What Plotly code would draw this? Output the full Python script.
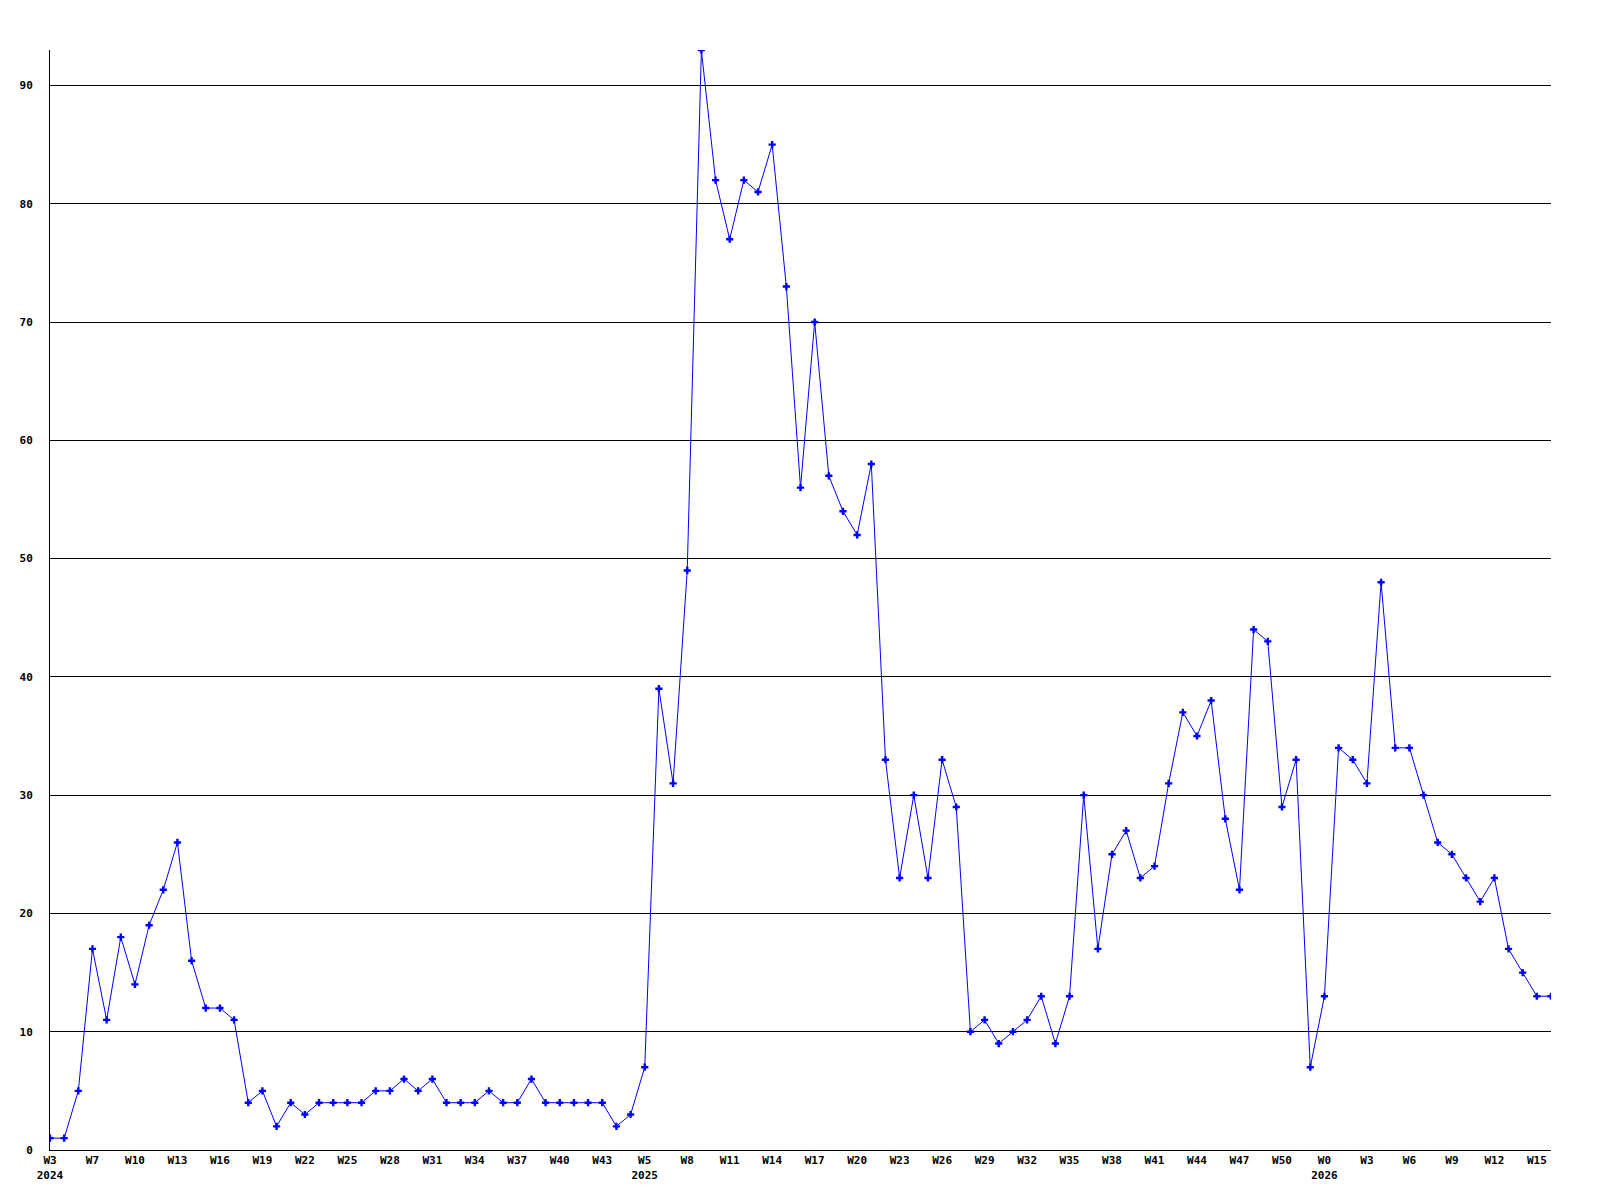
import plotly.graph_objects as go

# Weekly values (one point per week)
values = [
    1, 1, 5, 17, 11, 18, 14, 19, 22, 26,
    16, 12, 12, 11, 4, 5, 2, 4, 3, 4,
    4, 4, 4, 5, 5, 6, 5, 6, 4, 4,
    4, 5, 4, 4, 6, 4, 4, 4, 4, 4,
    2, 3, 7, 39, 31, 49, 93, 82, 77, 82,
    81, 85, 73, 56, 70, 57, 54, 52, 58, 33,
    23, 30, 23, 33, 29, 10, 11, 9, 10, 11,
    13, 9, 13, 30, 17, 25, 27, 23, 24, 31,
    37, 35, 38, 28, 22, 44, 43, 29, 33, 7,
    13, 34, 33, 31, 48, 34, 34, 30, 26, 25,
    23, 21, 23, 17, 15, 13, 13,
]

# Tick labels shown every third point
tick_labels = [
    "W3<br>2024", "W7", "W10", "W13", "W16", "W19", "W22", "W25", "W28",
    "W31", "W34", "W37", "W40", "W43", "W5<br>2025", "W8", "W11", "W14",
    "W17", "W20", "W23", "W26", "W29", "W32", "W35", "W38", "W41", "W44",
    "W47", "W50", "W0<br>2026", "W3", "W6", "W9", "W12", "W15",
]
y_ticks = [0, 10, 20, 30, 40, 50, 60, 70, 80, 90]

x = list(range(len(values)))
tick_positions = list(range(0, len(values), 3))[: len(tick_labels)]

font = dict(family="DejaVu Sans Mono", size=11, color="black")

fig = go.Figure()
fig.add_trace(
    go.Scatter(
        x=x,
        y=values,
        mode="lines+markers",
        line=dict(color="#0000FF", width=1),
        marker=dict(symbol="cross", size=6, color="#0000FF", line=dict(width=0)),
        cliponaxis=True,
        showlegend=False,
    )
)

fig.update_layout(
    width=1584,
    height=1192,
    margin=dict(l=42, r=41, t=42, b=50),
    paper_bgcolor="white",
    plot_bgcolor="white",
    font=font,
    showlegend=False,
)

fig.update_xaxes(
    range=[0, len(values) - 1],
    tickmode="array",
    tickvals=tick_positions,
    ticktext=[f"<b>{t}</b>" for t in tick_labels],
    showgrid=False,
    zeroline=False,
    showline=True,
    linecolor="black",
    linewidth=1,
    ticks="",
    tickfont=font,
)

fig.update_yaxes(
    range=[0, 93],
    tickmode="array",
    tickvals=y_ticks,
    ticktext=[f"<b>{v}</b>" for v in y_ticks],
    showgrid=True,
    gridcolor="black",
    gridwidth=1,
    zeroline=False,
    showline=True,
    linecolor="black",
    linewidth=1,
    ticks="",
    ticklabelstandoff=14,
    tickfont=font,
)

fig.write_html("out.html")
